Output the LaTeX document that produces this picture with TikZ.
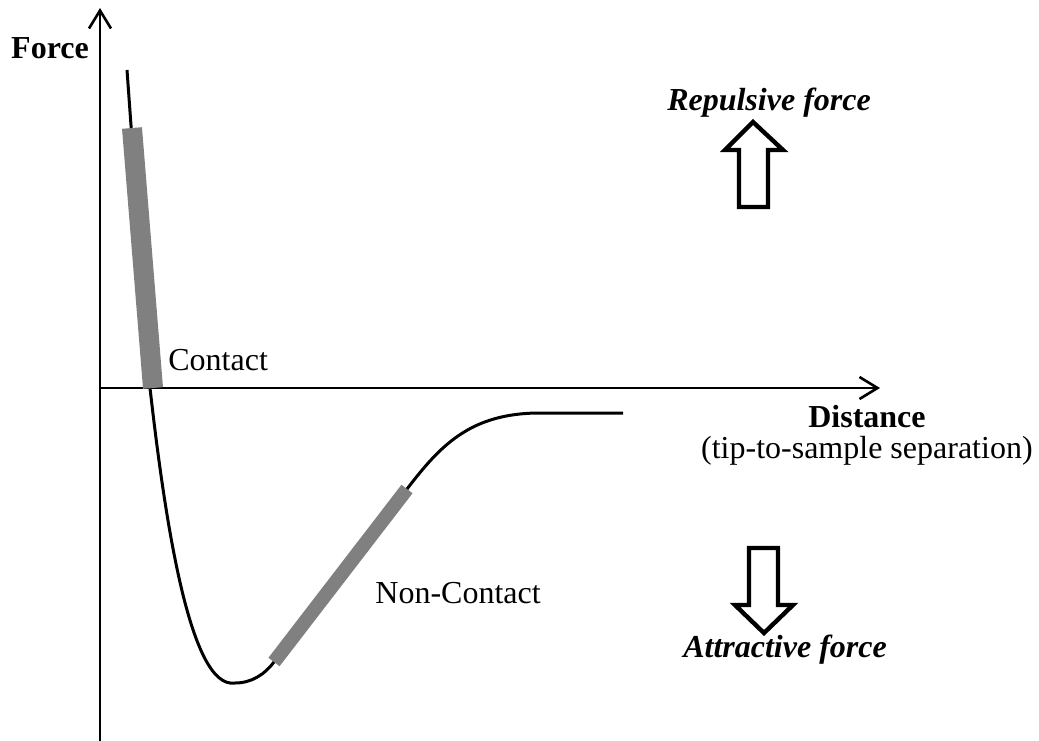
\documentclass[tikz,border=0pt]{standalone}
\usepackage{fontspec}
\setmainfont{Liberation Serif}
\usepackage{xcolor}
\usetikzlibrary{arrows.meta}
\definecolor{barGray}{RGB}{128,128,128}

\begin{document}
\begin{tikzpicture}[x=0.5pt,y=-0.5pt,font=\fontsize{16}{19}\selectfont,
    axis/.style={line width=1.3pt,-{Straight Barb[length=9pt,width=11pt,line width=1.3pt]}},
    curve/.style={line width=1.5pt},
    bar/.style={line width=#1,barGray},
    blockarrow/.style={line width=2.2pt,fill=white,line join=miter}]
    \useasboundingbox (0,0) rectangle (1039,740);
    % axes
    \coordinate (o) at (100,388);
    \coordinate (ybot) at (100,742);
    \coordinate (ytop) at (100,8);
    \coordinate (xend) at (880,388);
    \draw[axis] (ybot) -- (ytop);
    \draw[axis] (o) -- (xend);
    % force curve
    \coordinate (c0) at (127,70);
    \coordinate (c1) at (150,388);
    \coordinate (cmin) at (235,683);
    \coordinate (nc0) at (274,662);
    \coordinate (nc1) at (407,489);
    \coordinate (c2) at (540,413);
    \coordinate (cend) at (623,413);
    \draw[curve] (c0) -- (c1) .. controls (165,520) and (190,690) .. (cmin)
        .. controls (252,683) and (265,674) .. (nc0) -- (nc1)
        .. controls (440,446) and (470,413) .. (c2) -- (cend);
    % regions
    \coordinate (ct0) at (132,128);
    \coordinate (ct1) at (153,388);
    \draw[bar=10pt] (ct0) -- (ct1);
    \draw[bar=7pt] (nc0) -- (nc1);
    % labels
    \node[anchor=base] (force) at (50,58) {\textbf{Force}};
    \node[anchor=base west,inner sep=0pt] (contact) at (168,370) {Contact};
    \node[anchor=base west,inner sep=0pt] (noncontact) at (375,603) {Non-Contact};
    \node[anchor=base] (dist) at (867,427) {\textbf{Distance}};
    \node[anchor=base east,inner sep=0pt] (sep) at (1033,458) {(tip-to-sample separation)};
    \node[anchor=base] (rep) at (769,110) {\textbf{\textit{Repulsive force}}};
    \node[anchor=base] (att) at (785,657) {\textbf{\textit{Attractive force}}};
    % block arrows
    \draw[blockarrow] (753,122) -- (783,150) -- (768,150) -- (768,207)
        -- (739,207) -- (739,150) -- (725,150) -- cycle;
    \draw[blockarrow] (764,633) -- (793,605) -- (778,605) -- (778,548)
        -- (749,548) -- (749,605) -- (735,605) -- cycle;
\end{tikzpicture}
\end{document}
